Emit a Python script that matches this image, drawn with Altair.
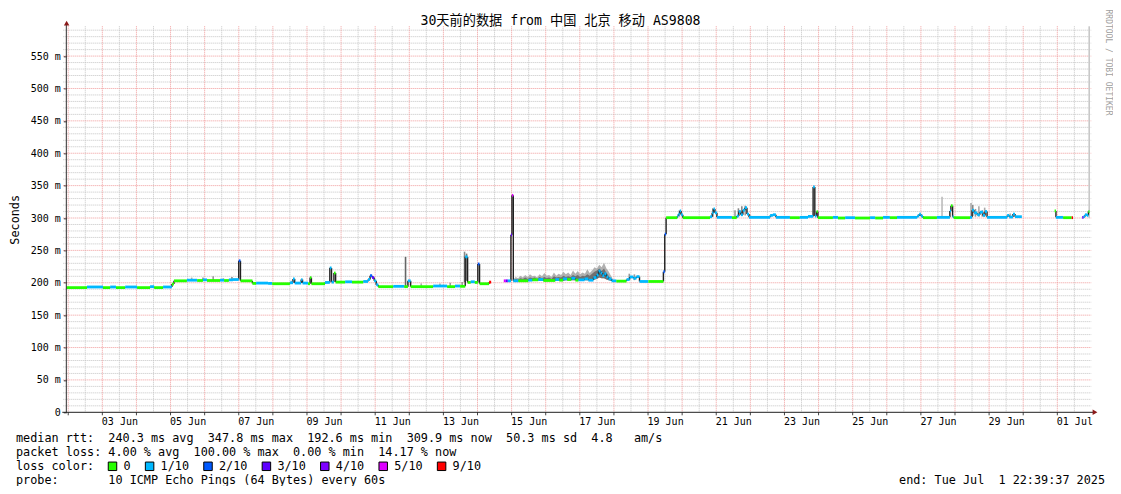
import altair as alt
import pandas as pd

# ---------------- data ----------------
# time positions are "day of June" (1.0 = Jun 1 00:00 UTC, 31.0 = Jul 1 00:00 UTC)
START_D = 1.9442
END_D = 31.9442

# median rtt steps (start position, value in ms, loss class); None = no data
MED_D = [1.944, 2.55, 3.02, 3.23, 3.40, 3.67, 4.02, 4.40, 4.52, 4.78,
         5.04, 5.10, 5.48, 5.78, 5.95, 6.07, 6.45, 6.57, 6.71, 6.83,
         7.00, 7.05, 7.40, 7.51, 7.86, 7.98, 8.50, 8.59, 8.64, 8.83,
         8.87, 9.03, 9.09, 9.13, 9.53, 9.67, 9.72, 9.79, 9.84, 10.12,
         10.32, 10.65, 10.79, 10.85, 10.91, 10.97, 11.03, 11.09, 11.53, 11.85,
         11.96, 12.04, 12.70, 13.11, 13.34, 13.49, 13.64, 13.71, 13.80, 13.92,
         14.01, 14.06, 14.34, 14.40, 14.77, 14.83, 14.89, 14.98, 15.01, 15.05,
         15.20, 15.49, 15.61, 15.78, 15.93, 16.28, 16.40, 16.51, 16.63, 16.75,
         16.87, 16.96, 17.14, 17.25, 17.40, 17.49, 17.55, 17.61, 17.66, 17.72,
         17.78, 17.84, 17.93, 18.07, 18.37, 18.46, 18.57, 18.66, 18.75, 19.01,
         19.45, 19.49, 19.53, 19.86, 19.89, 19.93, 19.97, 20.02, 20.82, 20.88,
         20.92, 20.96, 21.02, 21.46, 21.60, 21.66, 21.72, 21.78, 21.84, 21.90,
         21.96, 22.58, 22.66, 22.75, 23.16, 23.45, 23.69, 23.84, 23.89, 23.94,
         23.98, 24.42, 24.57, 24.78, 25.07, 25.51, 25.66, 25.89, 26.09, 26.30,
         26.89, 26.95, 27.00, 27.06, 27.47, 27.85, 27.88, 27.93, 27.96, 28.44,
         28.50, 28.56, 28.65, 28.73, 28.82, 28.88, 28.94, 29.53, 29.59, 29.70,
         29.76, 29.96, 30.92, 30.96, 31.17, 31.42, 31.46, 31.73, 31.77, 31.81,
         31.87, 31.91]
MED_V = [192.5, 193.5, 192.5, 193.5, 192.5, 193.5, 192.5, 194.0, 192.5, 193.5,
         198.0, 203.0, 204.0, 203.5, 204.5, 203.5, 204.0, 203.5, 204.5, 205.0,
         234.0, 203.0, 199.0, 199.5, 199.0, 198.5, 200.0, 206.0, 199.5, 205.0,
         199.5, 198.5, 208.0, 198.5, 200.5, 223.0, 201.0, 215.0, 201.0, 201.5,
         201.0, 202.0, 205.0, 211.0, 208.0, 203.0, 197.0, 194.0, 194.5, 194.0,
         203.0, 194.0, 195.0, 194.0, 195.0, 194.5, 240.0, 200.5, 201.5, 200.5,
         229.0, 198.5, 201.0, None, 203.0, 203.0, 203.0, 274.0, 335.0, 203.0,
         203.0, 204.0, 204.5, 205.0, 203.5, 205.0, 204.0, 206.0, 205.0, 207.0,
         204.0, 204.5, 206.0, 204.0, 208.0, 212.0, 218.0, 215.0, 211.0, 214.0,
         209.0, 206.0, 203.0, 202.5, 205.0, 209.0, 207.0, 209.5, 202.0, 202.0,
         217.0, 275.0, 300.5, 303.0, 306.0, 311.0, 305.0, 300.5, 302.0, 308.0,
         314.0, 308.0, 301.0, 300.5, 303.0, 310.0, 305.0, 312.0, 316.0, 306.0,
         301.0, 304.0, 305.0, 301.0, 300.5, 301.0, 302.5, 348.0, 303.0, 310.0,
         300.5, 301.0, 300.0, 300.5, 300.0, 300.5, 300.0, 301.0, 300.5, 301.0,
         303.0, 306.0, 303.0, 300.5, 301.0, 311.0, 319.0, 302.0, 300.5, 301.0,
         312.0, 308.0, 305.0, 309.0, 304.0, 310.0, 301.0, 304.0, 301.5, 306.0,
         302.0, None, 311.0, 301.0, 300.5, 300.5, None, 301.0, 302.0, 305.0,
         304.0, 310.0]
MED_L = [0, 1, 0, 1, 0, 1, 0, 1, 0, 1,
         0, 0, 1, 0, 1, 0, 1, 0, 1, 1,
         2, 0, 0, 1, 1, 0, 1, 1, 1, 1,
         1, 0, 0, 0, 1, 1, 1, 0, 0, 1,
         0, 1, 1, 2, 3, 1, 1, 0, 1, 0,
         1, 0, 1, 0, 1, 0, 1, 0, 1, 0,
         2, 0, 6, 0, 5, 3, 1, 3, 5, 1,
         0, 1, 0, 1, 0, 1, 0, 1, 0, 1,
         0, 1, 1, 1, 1, 1, 1, 1, 1, 1,
         1, 1, 1, 0, 1, 1, 1, 1, 1, 0,
         2, 2, 0, 1, 1, 1, 1, 0, 1, 1,
         1, 1, 1, 0, 1, 1, 1, 1, 1, 1,
         1, 1, 1, 1, 0, 1, 1, 1, 1, 0,
         0, 1, 0, 1, 0, 1, 0, 1, 0, 1,
         1, 1, 1, 0, 1, 1, 0, 1, 0, 1,
         1, 1, 1, 1, 1, 1, 1, 1, 1, 1,
         1, 0, 0, 1, 0, 6, 0, 3, 1, 1,
         1, 0]

# isolated smoke strokes (spread of the individual pings): position, low, high, grey
SMOKE_D = [5.62, 5.95, 6.25, 6.55, 6.80, 8.56, 11.89, 12.35, 12.90, 13.20,
           13.55, 13.62, 13.68, 18.45, 18.60, 19.92, 20.90, 21.55, 21.65, 21.75,
           21.85, 22.00, 27.62, 28.47, 28.52, 28.60, 28.70, 28.80, 28.87, 29.62,
           31.935]
SMOKE_LO = [203, 204, 203.5, 203.5, 204, 199, 195, 194, 195, 195,
            195, 201, 203, 204, 204, 302, 302, 301, 302, 303,
            304, 301, 302, 302, 303, 302, 302, 302, 302, 301,
            300]
SMOKE_HI = [208, 208, 210, 207, 209, 203, 240, 199, 199, 200,
            201, 248, 245, 214, 213, 312, 315, 312, 315, 318,
            319, 305, 333, 323, 320, 314, 318, 312, 316, 307,
            596]
SMOKE_C = ["#aaaaaa", "#999999", "#999999", "#aaaaaa", "#888888", "#999999", "#666666", "#aaaaaa", "#aaaaaa", "#999999",
           "#999999", "#888888", "#777777", "#999999", "#999999", "#999999", "#888888", "#999999", "#888888", "#888888",
           "#999999", "#aaaaaa", "#bbbbbb", "#aaaaaa", "#888888", "#999999", "#aaaaaa", "#999999", "#aaaaaa", "#aaaaaa",
           "#c8c8c8"]

# continuous smoke band of 15-18 Jun: position, outer top, inner top, bottom
BAND_D = [15.05, 15.12, 15.19, 15.26, 15.33, 15.40, 15.47, 15.54, 15.61, 15.68,
          15.75, 15.82, 15.89, 15.96, 16.03, 16.10, 16.17, 16.24, 16.31, 16.38,
          16.45, 16.52, 16.59, 16.66, 16.73, 16.80, 16.87, 16.94, 17.01, 17.08,
          17.15, 17.22, 17.29, 17.36, 17.43, 17.50, 17.57, 17.64, 17.71, 17.78,
          17.85, 17.92, 17.99]
BAND_HI = [205, 209, 207, 211, 208, 212, 209, 213, 210, 211,
           208, 213, 210, 215, 211, 212, 209, 216, 211, 214,
           212, 217, 213, 216, 212, 219, 214, 218, 213, 216,
           214, 221, 215, 219, 224, 222, 228, 224, 231, 222,
           217, 210, 204]
BAND_MID = [204, 206, 205, 207, 206, 208, 206, 208, 207, 208,
            206, 209, 207, 209, 207, 208, 206, 210, 208, 209,
            208, 211, 209, 210, 209, 212, 210, 212, 209, 211,
            210, 213, 211, 214, 217, 219, 222, 218, 222, 215,
            210, 206, 203]
BAND_LO = [202, 202, 202, 202, 203, 203, 203, 203, 203, 203,
           203, 203, 203, 203, 203, 203, 203, 203, 203, 203,
           203, 203, 204, 204, 204, 204, 204, 204, 204, 204,
           204, 204, 204, 204, 205, 206, 208, 207, 207, 205,
           204, 203, 202]

LOSS_COLORS = ["#26ff00", "#00b8ff", "#0059ff", "#5e00ff", "#7e00ff", "#dd00ff", "#ff0000"]
LOSS_LABELS = ["0", "1/10", "2/10", "3/10", "4/10", "5/10", "9/10"]

Y_TICKS = [0, 50, 100, 150, 200, 250, 300, 350, 400, 450, 500, 550]
Y_LABELS = ["0", "50 m", "100 m", "150 m", "200 m", "250 m", "300 m", "350 m",
            "400 m", "450 m", "500 m", "550 m"]
X_TICK_D = [3.5, 5.5, 7.5, 9.5, 11.5, 13.5, 15.5, 17.5, 19.5, 21.5, 23.5, 25.5,
            27.5, 29.5, 31.5]
X_LABELS = ["03 Jun", "05 Jun", "07 Jun", "09 Jun", "11 Jun", "13 Jun", "15 Jun",
            "17 Jun", "19 Jun", "21 Jun", "23 Jun", "25 Jun", "27 Jun", "29 Jun",
            "01 Jul"]

TITLE = "30天前的数据 from 中国 北京 移动 AS9808"
WATERMARK = "RRDTOOL / TOBI OETIKER"
LINE1 = "median rtt:  240.3 ms avg  347.8 ms max  192.6 ms min  309.9 ms now  50.3 ms sd  4.8   am/s"
LINE2 = "packet loss: 4.00 % avg  100.00 % max  0.00 % min  14.17 % now"
LINE3 = "loss color:"
LINE4 = "probe:       10 ICMP Echo Pings (64 Bytes) every 60s"
END_TEXT = "end: Tue Jul  1 22:39:37 2025"

# ---------------- layout ----------------
MONO = "DejaVu Sans Mono"
BASE_MS = 1748736000000  # 2025-06-01T00:00:00Z
DAY_MS = 86400000
W, H = 1023.2, 386.0
OX, OY = 66.32, 26.3          # plot origin on the page
Y_TOP = 596.0
PAGE_W, PAGE_H = 1105, 478    # drawing size (page minus its 8px margins)
MINOR_C = "#c4c4c4"
MAJOR_C = "#f09a9a"


def ms(d):
    return int(round(BASE_MS + (d - 1.0) * DAY_MS))


def px(x):
    return x - OX


def py(y):
    return y - OY


def nb(s):
    return s.replace(" ", "\u00a0")


XS = alt.Scale(type="utc", domain=[ms(START_D), ms(END_D)])
YS = alt.Scale(domain=[0, Y_TOP], nice=False, zero=False)

y_expr = "[" + ",".join("'%s'" % s for s in Y_LABELS) + "][indexof([" + \
    ",".join(str(v) for v in Y_TICKS) + "], datum.value)]"
x_vals = [ms(d) for d in X_TICK_D]
x_expr = "[" + ",".join("'%s'" % s for s in X_LABELS) + "][indexof([" + \
    ",".join(str(v) for v in x_vals) + "], time(datum.value))]"

Y_AX = alt.Axis(values=Y_TICKS, labelExpr=y_expr, grid=False, domain=False,
                ticks=True, tickSize=3, tickColor="#202020", tickWidth=1,
                labelFont=MONO, labelFontSize=10, labelColor="#000000",
                labelPadding=3, title="Seconds", titleFont=MONO,
                titleFontSize=11.8, titleFontWeight="normal", titleColor="#000000",
                titleX=-52.3, titleY=H / 2, titleAngle=270, titleAlign="center",
                titleBaseline="middle")
X_AX = alt.Axis(values=x_vals, labelExpr=x_expr, grid=False, domain=False,
                ticks=False, labelFont=MONO, labelFontSize=10, labelColor="#000000",
                labelPadding=4, title=None, labelAngle=0, labelOverlap=False,
                labelFlush=False)

# ---------------- frames ----------------
minor_y = [v for v in range(10, 600, 10) if v % 50 != 0 and v < Y_TOP]
major_y = [v for v in range(50, 600, 50) if v < Y_TOP]
df_hmin = pd.DataFrame({"v": minor_y})
df_hmaj = pd.DataFrame({"v": major_y})
df_vmaj = pd.DataFrame({"t": [ms(d) for d in range(2, 32)]})
df_vmin = pd.DataFrame({"t": [ms(d + 0.5) for d in range(2, 32)]})

seg = {"t0": [], "t1": [], "v": [], "c": []}
con = {"t": [], "a": [], "b": []}
for i in range(len(MED_D)):
    d1 = MED_D[i + 1] if i + 1 < len(MED_D) else END_D
    if MED_V[i] is not None:
        seg["t0"].append(ms(MED_D[i]))
        seg["t1"].append(ms(d1))
        seg["v"].append(MED_V[i])
        seg["c"].append(LOSS_COLORS[MED_L[i]])
        if i > 0 and MED_V[i - 1] is not None:
            con["t"].append(ms(MED_D[i]))
            con["a"].append(MED_V[i - 1])
            con["b"].append(MED_V[i])
df_seg = pd.DataFrame(seg)
df_con = pd.DataFrame(con)
df_smoke = pd.DataFrame({"t": [ms(d) for d in SMOKE_D], "lo": SMOKE_LO,
                         "hi": SMOKE_HI, "c": SMOKE_C})
df_band = pd.DataFrame({"t": [ms(d) for d in BAND_D], "hi": BAND_HI,
                        "mid": BAND_MID, "lo": BAND_LO})

# ---------------- layers ----------------
grid_hmin = alt.Chart(df_hmin).mark_rule(color=MINOR_C, strokeDash=[1, 1], strokeWidth=1).encode(
    y=alt.Y("v:Q", scale=YS, axis=Y_AX), x=alt.value(-3), x2=alt.value(W + 2))
grid_vmin = alt.Chart(df_vmin).mark_rule(color=MINOR_C, strokeDash=[1, 1], strokeWidth=1).encode(
    x=alt.X("t:T", scale=XS, axis=X_AX), y=alt.value(0), y2=alt.value(H))
grid_hmaj = alt.Chart(df_hmaj).mark_rule(color=MAJOR_C, strokeDash=[1, 1], strokeWidth=1).encode(
    y=alt.Y("v:Q", scale=YS, axis=Y_AX), x=alt.value(-3), x2=alt.value(W + 2))
grid_vmaj = alt.Chart(df_vmaj).mark_rule(color=MAJOR_C, strokeDash=[1, 1], strokeWidth=1).encode(
    x=alt.X("t:T", scale=XS, axis=X_AX), y=alt.value(0), y2=alt.value(H))
xticks = alt.Chart(df_vmaj).mark_rule(color="#444444", strokeWidth=1).encode(
    x=alt.X("t:T", scale=XS, axis=X_AX), y=alt.value(H), y2=alt.value(H + 3))

band_out = alt.Chart(df_band).mark_area(color="#b0b0b0", opacity=1, interpolate="linear").encode(
    x=alt.X("t:T", scale=XS, axis=X_AX),
    y=alt.Y("hi:Q", scale=YS, axis=Y_AX), y2="lo:Q")
band_in = alt.Chart(df_band).mark_area(color="#707070", opacity=1, interpolate="linear").encode(
    x=alt.X("t:T", scale=XS, axis=X_AX),
    y=alt.Y("mid:Q", scale=YS, axis=Y_AX), y2="lo:Q")
smoke = alt.Chart(df_smoke).mark_rule(strokeWidth=1.6).encode(
    x=alt.X("t:T", scale=XS, axis=X_AX),
    y=alt.Y("lo:Q", scale=YS, axis=Y_AX), y2="hi:Q",
    color=alt.Color("c:N", scale=None))
connect = alt.Chart(df_con).mark_rule(strokeWidth=1.4, color="#202020").encode(
    x=alt.X("t:T", scale=XS, axis=X_AX),
    y=alt.Y("a:Q", scale=YS, axis=Y_AX), y2="b:Q")
median = alt.Chart(df_seg).mark_rule(strokeWidth=2.8, strokeCap="butt").encode(
    x=alt.X("t0:T", scale=XS, axis=X_AX), x2="t1:T",
    y=alt.Y("v:Q", scale=YS, axis=Y_AX),
    color=alt.Color("c:N", scale=None))

one = pd.DataFrame({"k": [0]})
y_line = alt.Chart(one).mark_rule(color="#303030", strokeWidth=1).encode(
    x=alt.value(0), y=alt.value(-3), y2=alt.value(H))
x_line = alt.Chart(one).mark_rule(color="#202020", strokeWidth=1).encode(
    x=alt.value(-4), x2=alt.value(W + 4), y=alt.value(H))
arrow_up = alt.Chart(one).mark_point(shape="triangle-up", filled=True, size=30,
                                     color="#8b1a1a", opacity=1).encode(
    x=alt.value(0.3), y=alt.value(-3.2))
arrow_right = alt.Chart(one).mark_point(shape="triangle-right", filled=True, size=30,
                                        color="#8b1a1a", opacity=1).encode(
    x=alt.value(W + 5.5), y=alt.value(H))


def text_layer(txt, x, y, size, align="left", color="#000000", angle=0, font=MONO):
    df = pd.DataFrame({"s": [nb(txt)]})
    kw = dict(align=align, baseline="middle", font=font, fontSize=size, color=color)
    if angle:
        kw["angle"] = angle
    return alt.Chart(df).mark_text(**kw).encode(
        text="s:N", x=alt.value(px(x)), y=alt.value(py(y)))


title = text_layer(TITLE, 560.5, 21, 13.2, align="center",
                   font=MONO + ", Noto Sans CJK SC")
mark = text_layer(WATERMARK, 1108.3, 9.5, 8, color="#a0a0a0", angle=90)
t1 = text_layer(LINE1, 16, 438.3, 11.8)
t2 = text_layer(LINE2, 16, 452.3, 11.8)
t3 = text_layer(LINE3, 16, 466.3, 11.8)
t4 = text_layer(LINE4, 16, 480.3, 11.8)
t5 = text_layer(END_TEXT, 1105, 480.3, 11.8, align="right")

# loss colour legend (boxes + labels) laid out like rrdtool's legend
CH = 7.1
bx, box_x, lab_x = 108.0, [], []
for lab in LOSS_LABELS:
    box_x.append(px(bx + 4.5))
    lab_x.append(px(bx + 15.5))
    bx = bx + 15.5 + len(lab) * CH + 14.5
df_leg = pd.DataFrame({"bx": box_x, "lx": lab_x, "c": LOSS_COLORS, "s": LOSS_LABELS,
                       "y": [py(466.3)] * len(LOSS_LABELS)})
leg_box = alt.Chart(df_leg).mark_square(size=72, filled=True, stroke="#000000",
                                        strokeWidth=1, opacity=1).encode(
    x=alt.X("bx:Q", scale=None), y=alt.Y("y:Q", scale=None),
    fill=alt.Color("c:N", scale=None))
leg_txt = alt.Chart(df_leg).mark_text(align="left", baseline="middle", font=MONO,
                                      fontSize=11.8, color="#000000").encode(
    x=alt.X("lx:Q", scale=None), y=alt.Y("y:Q", scale=None), text="s:N")

chart = alt.layer(
    grid_hmin, grid_vmin, grid_hmaj, grid_vmaj, xticks,
    band_out, band_in, smoke, connect, median,
    y_line, x_line, arrow_up, arrow_right,
    title, mark, t1, t2, t3, t4, t5, leg_box, leg_txt,
).properties(
    width=W, height=H,
    padding={"left": OX - 8, "top": OY - 8, "right": PAGE_W - (OX - 8) - W,
             "bottom": PAGE_H - (OY - 8) - H},
    autosize=alt.AutoSizeParams(type="none"),
    background="#ffffff",
).configure_view(stroke=None)

chart.save("out.html", embed_options={"renderer": "svg", "actions": False})
